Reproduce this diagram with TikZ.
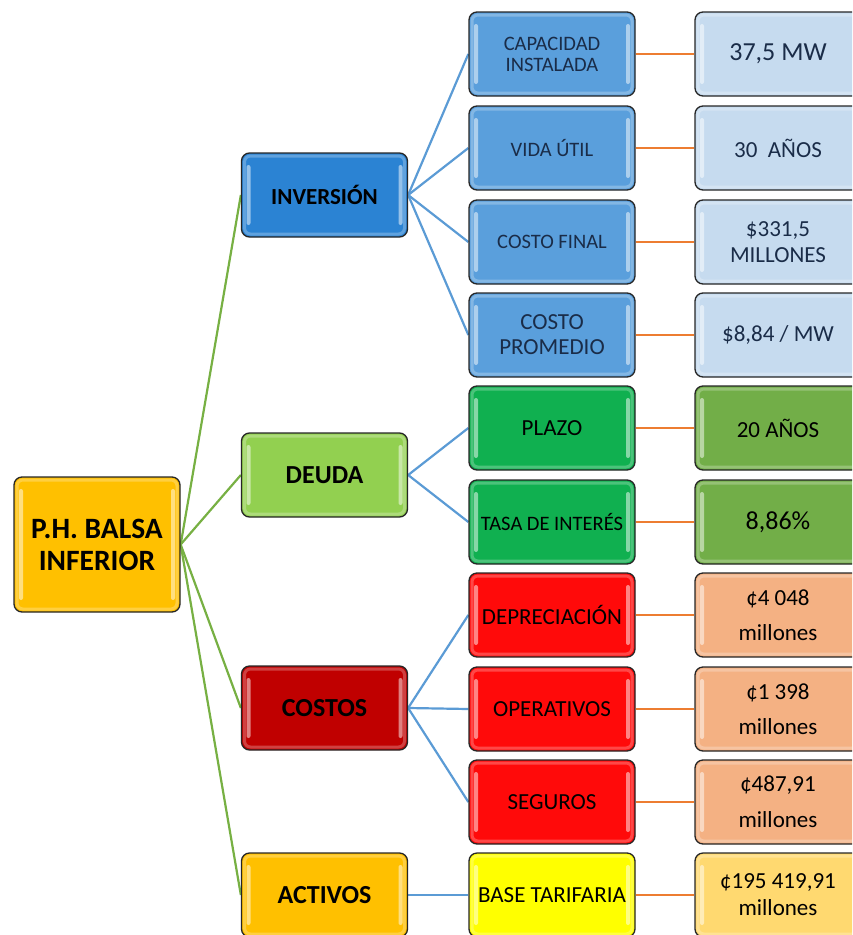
\documentclass[tikz,border=0pt]{standalone}
\usepackage{fontspec}
\setmainfont{Carlito}
\pgfdeclarelayer{background}
\pgfsetlayers{background,main}
\newcommand{\myfs}[2]{\fontsize{#1}{#2}\selectfont}
\definecolor{cRoot}{HTML}{FFC000}
\definecolor{cInv}{HTML}{2B83D3}
\definecolor{cBlueB}{HTML}{5A9FDC}
\definecolor{cBlueC}{HTML}{C6DBEF}
\definecolor{cDeu}{HTML}{92D050}
\definecolor{cGreenB}{HTML}{10B050}
\definecolor{cGreenC}{HTML}{72AE48}
\definecolor{cCos}{HTML}{C00000}
\definecolor{cRedB}{HTML}{FF0A0A}
\definecolor{cPeach}{HTML}{F4B183}
\definecolor{cAct}{HTML}{FFC000}
\definecolor{cYel}{HTML}{FFFF00}
\definecolor{cYelC}{HTML}{FFD970}
\definecolor{lnGreen}{HTML}{77B043}
\definecolor{lnBlue}{HTML}{5B9BD5}
\definecolor{lnOrange}{HTML}{ED7D31}
\definecolor{txNavy}{HTML}{1A2C48}
\tikzset{
  gloss/.style={path picture={
    \fill[white,opacity=0.5,rounded corners=2pt]
      ([xshift=5pt,yshift=-12pt]path picture bounding box.north west) rectangle
      ([xshift=9pt,yshift=12pt]path picture bounding box.south west);
    \fill[white,opacity=0.5,rounded corners=2pt]
      ([xshift=-9pt,yshift=-12pt]path picture bounding box.north east) rectangle
      ([xshift=-5pt,yshift=12pt]path picture bounding box.south east);
    \draw[white,opacity=0.25,line width=3pt,rounded corners=6pt]
      ([xshift=3pt,yshift=-3pt]path picture bounding box.north west) rectangle
      ([xshift=-3pt,yshift=3pt]path picture bounding box.south east);
  }},
  box/.style={draw=black!85, line width=1.3pt, rounded corners=8pt,
    minimum width=166pt, minimum height=84pt, align=center, inner sep=1pt, gloss},
  lvlone/.style={box, font=\myfs{26}{29}\bfseries},
  lvltwo/.style={box, font=\myfs{23}{26}},
  lvlthree/.style={box, font=\myfs{23}{26}},
  lnroot/.style={draw=lnGreen, line width=2.2pt},
  lnmid/.style={draw=lnBlue, line width=2.2pt},
  lnval/.style={draw=lnOrange, line width=2.4pt},
}
\begin{document}
\begin{tikzpicture}[x=1pt,y=-1pt]
\useasboundingbox (0,0) rectangle (852,935);
\clip (0,0) rectangle (852,935);

% root
\node[box, fill=cRoot, minimum height=135pt, font=\myfs{29.5}{32}\bfseries] (root) at (97,544.5) {P.H. BALSA\\INFERIOR};

% level one
\node[lvlone, fill=cInv, font=\myfs{23}{26}\bfseries] (inv) at (324.5,195) {INVERSIÓN};
\node[lvlone, fill=cDeu] (deu) at (324.5,475) {DEUDA};
\node[lvlone, fill=cCos] (cos) at (324.5,708) {COSTOS};
\node[lvlone, fill=cAct] (act) at (324.5,895) {ACTIVOS};

% level two
\node[lvltwo, fill=cBlueB, text=txNavy, font=\myfs{20.5}{21}] (cap) at (552,54) {CAPACIDAD\\INSTALADA};
\node[lvltwo, fill=cBlueB, text=txNavy, font=\myfs{20.5}{22}] (vida) at (552,148) {VIDA ÚTIL};
\node[lvltwo, fill=cBlueB, text=txNavy, font=\myfs{20.5}{22}] (cfin) at (552,242) {COSTO FINAL};
\node[lvltwo, fill=cBlueB, text=txNavy, font=\myfs{23}{25}] (cprom) at (552,335) {COSTO\\PROMEDIO};
\node[lvltwo, fill=cGreenB] (plazo) at (552,428) {PLAZO};
\node[lvltwo, fill=cGreenB, font=\myfs{20.5}{22}] (tasa) at (552,522) {TASA DE INTERÉS};
\node[lvltwo, fill=cRedB] (dep) at (552,615) {DEPRECIACIÓN};
\node[lvltwo, fill=cRedB] (oper) at (552,709) {OPERATIVOS};
\node[lvltwo, fill=cRedB] (seg) at (552,802) {SEGUROS};
\node[lvltwo, fill=cYel] (base) at (552,895) {BASE TARIFARIA};

% level three
\node[lvlthree, fill=cBlueC, text=txNavy, font=\myfs{26}{28}] (vcap) at (778,54) {37,5 MW};
\node[lvlthree, fill=cBlueC, text=txNavy] (vvida) at (778,148) {30\ \ AÑOS};
\node[lvlthree, fill=cBlueC, text=txNavy, font=\myfs{23}{26.5}] (vcfin) at (778,242) {\$331,5\\MILLONES};
\node[lvlthree, fill=cBlueC, text=txNavy] (vcprom) at (778,335) {\$8,84 / MW};
\node[lvlthree, fill=cGreenC] (vplazo) at (778,428) {20 AÑOS};
\node[lvlthree, fill=cGreenC, font=\myfs{26}{28}] (vtasa) at (778,522) {8,86\%};
\node[lvlthree, fill=cPeach, font=\myfs{23}{35}] (vdep) at (778,615) {¢4 048\\millones};
\node[lvlthree, fill=cPeach, font=\myfs{23}{35}] (voper) at (778,709) {¢1 398\\millones};
\node[lvlthree, fill=cPeach, font=\myfs{23}{36}] (vseg) at (778,802) {¢487,91\\millones};
\node[lvlthree, fill=cYelC, font=\myfs{23}{27}] (vbase) at (778,895) {¢195 419,91\\millones};

\begin{pgfonlayer}{background}
  \foreach \c in {inv,deu,cos,act} \draw[lnroot] (root.east) -- (\c.west);
  \foreach \c in {cap,vida,cfin,cprom} \draw[lnmid] (inv.east) -- (\c.west);
  \foreach \c in {plazo,tasa} \draw[lnmid] (deu.east) -- (\c.west);
  \foreach \c in {dep,oper,seg} \draw[lnmid] (cos.east) -- (\c.west);
  \draw[lnmid] (act.east) -- (base.west);
  \draw[lnval] (cap.east) -- (vcap.west);
  \draw[lnval] (vida.east) -- (vvida.west);
  \draw[lnval] (cfin.east) -- (vcfin.west);
  \draw[lnval] (cprom.east) -- (vcprom.west);
  \draw[lnval] (plazo.east) -- (vplazo.west);
  \draw[lnval] (tasa.east) -- (vtasa.west);
  \draw[lnval] (dep.east) -- (vdep.west);
  \draw[lnval] (oper.east) -- (voper.west);
  \draw[lnval] (seg.east) -- (vseg.west);
  \draw[lnval] (base.east) -- (vbase.west);
\end{pgfonlayer}
\end{tikzpicture}
\end{document}
